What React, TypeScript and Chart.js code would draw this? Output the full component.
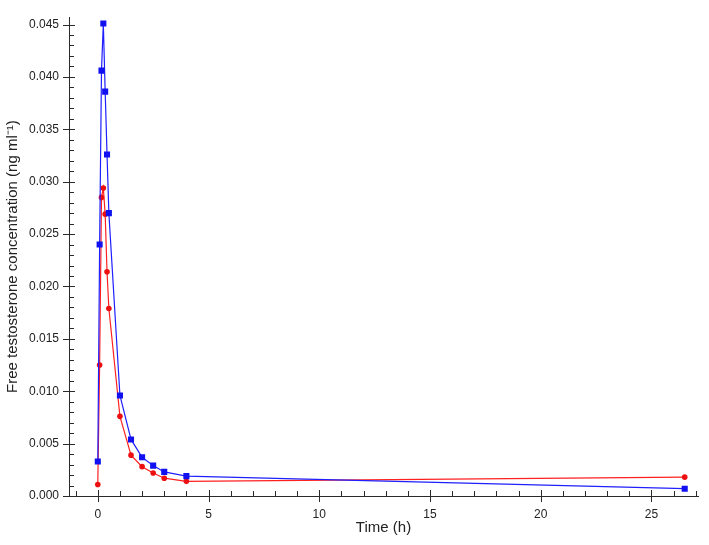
import React, { useEffect, useRef } from "react";
import { Chart, registerables } from "chart.js";

Chart.register(...registerables);

const times = [0, 0.083, 0.167, 0.25, 0.333, 0.417, 0.5, 1, 1.5, 2, 2.5, 3, 4, 26.5];
const redValues = [0.0011, 0.0125, 0.0285, 0.0294, 0.0269, 0.0214, 0.0179, 0.0076, 0.0039, 0.0028, 0.0022, 0.0017, 0.0014, 0.0018];
const blueValues = [0.0033, 0.024, 0.0406, 0.0451, 0.0386, 0.0326, 0.027, 0.0096, 0.0054, 0.0037, 0.0029, 0.0023, 0.0019, 0.0007];
const xTickValues = [0, 5, 10, 15, 20, 25];
const yTickValues = [0, 0.005, 0.01, 0.015, 0.02, 0.025, 0.03, 0.035, 0.04, 0.045];

const AXIS_COLOR = "#2a2a2a";

const tickPlugin = {
  id: "customTicks",
  afterDraw(chart: any) {
    const ctx = chart.ctx;
    const xs = chart.scales.x;
    const ys = chart.scales.y;
    const area = chart.chartArea;
    ctx.save();
    ctx.strokeStyle = AXIS_COLOR;
    ctx.lineWidth = 1;
    ctx.beginPath();
    for (let t = Math.ceil(xs.min); t <= Math.floor(xs.max); t++) {
      const px = Math.round(xs.getPixelForValue(t)) + 0.5;
      if (t % 5 === 0) {
        ctx.moveTo(px, area.bottom - 6);
        ctx.lineTo(px, area.bottom + 6);
      } else {
        ctx.moveTo(px, area.bottom - 5);
        ctx.lineTo(px, area.bottom);
      }
    }
    for (let i = 0; i <= Math.floor(ys.max * 1000 + 1e-6); i++) {
      const v = i / 1000;
      const py = Math.round(ys.getPixelForValue(v)) + 0.5;
      if (i % 5 === 0) {
        ctx.moveTo(area.left - 6, py);
        ctx.lineTo(area.left + (i === 0 ? 0 : 6), py);
      } else {
        ctx.moveTo(area.left, py);
        ctx.lineTo(area.left + 5, py);
      }
    }
    ctx.stroke();
    ctx.restore();
  },
};

export default function App() {
  const canvasRef = useRef<HTMLCanvasElement | null>(null);

  useEffect(() => {
    document.body.style.margin = "0";
    const canvas = canvasRef.current;
    if (!canvas) return;
    const redData = times.map((t, i) => ({ x: t, y: redValues[i] }));
    const blueData = times.map((t, i) => ({ x: t, y: blueValues[i] }));
    const chart = new Chart(canvas, {
      type: "scatter",
      data: {
        datasets: [
          {
            label: "Blue",
            data: blueData,
            showLine: true,
            borderColor: "#1f1fff",
            backgroundColor: "#1010f0",
            borderWidth: 1.2,
            pointStyle: "rect",
            pointRadius: 4.3,
            pointBorderWidth: 0,
            tension: 0,
          },
          {
            label: "Red",
            data: redData,
            showLine: true,
            borderColor: "#ff2020",
            backgroundColor: "#ee1010",
            borderWidth: 1.2,
            pointStyle: "circle",
            pointRadius: 2.8,
            pointBorderWidth: 0,
            tension: 0,
          },
        ],
      },
      options: {
        responsive: false,
        animation: false,
        layout: { padding: { top: 13, right: 11, left: 0, bottom: 0 } },
        plugins: { legend: { display: false }, tooltip: { enabled: false } },
        scales: {
          x: {
            type: "linear",
            min: -1.3,
            max: 27.1,
            afterBuildTicks: (scale: any) => {
              scale.ticks = xTickValues.map((v) => ({ value: v }));
            },
            afterFit: (scale: any) => {
              scale.height = 49;
            },
            grid: { display: false, drawTicks: false },
            border: { display: true, color: AXIS_COLOR, width: 1 },
            ticks: {
              padding: 11,
              color: "#222",
              font: { family: "Liberation Sans, Arial, sans-serif", size: 12 },
              maxRotation: 0,
              callback: (v: any) => String(v),
            },
            title: {
              display: true,
              text: "Time (h)",
              color: "#222",
              font: { family: "Liberation Sans, Arial, sans-serif", size: 15 },
              padding: { top: 0, bottom: 8 },
            },
          },
          y: {
            type: "linear",
            min: 0,
            max: 0.0457,
            afterBuildTicks: (scale: any) => {
              scale.ticks = yTickValues.map((v) => ({ value: v }));
            },
            afterFit: (scale: any) => {
              scale.width = 69;
            },
            grid: { display: false, drawTicks: false },
            border: { display: true, color: AXIS_COLOR, width: 1 },
            ticks: {
              padding: 10,
              color: "#222",
              font: { family: "Liberation Sans, Arial, sans-serif", size: 12 },
              callback: (v: any) => Number(v).toFixed(3),
            },
            title: {
              display: true,
              text: "Free testosterone concentration (ng ml\u207B\u00B9)",
              color: "#222",
              font: { family: "Liberation Sans, Arial, sans-serif", size: 15 },
              padding: { top: 4, bottom: 0 },
            },
          },
        },
      },
      plugins: [tickPlugin],
    });
    return () => chart.destroy();
  }, []);

  return (
    <div style={{ width: 709, height: 545 }}>
      <canvas ref={canvasRef} width={709} height={545} />
    </div>
  );
}
